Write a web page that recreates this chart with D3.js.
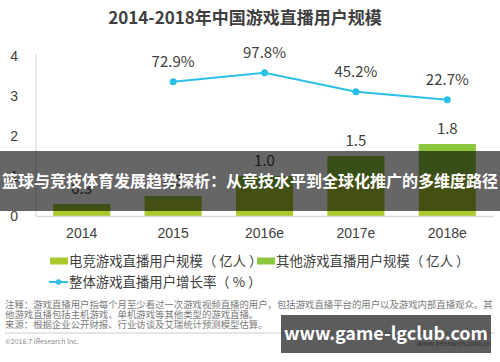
<!DOCTYPE html>
<html>
<head>
<meta charset="utf-8">
<script src="https://cdn.jsdelivr.net/npm/d3@7"></script>
<style>
    body { margin: 0; background: #fff; }
    svg { display: block; font-family: "Noto Sans CJK SC", "Noto Sans", sans-serif; }
</style>
</head>
<body>
<svg id="chart" width="500" height="362"></svg>
<script>
// data
var years = ["2014", "2015", "2016e", "2017e", "2018e"];
var esports = [0.25, 0.43, 0.70, 0.95, 1.02];   // 电竞游戏直播用户规模（亿人）
var others = [0.05, 0.07, 0.30, 0.55, 0.78];    // 其他游戏直播用户规模（亿人）
var growth = [null, 72.9, 97.8, 45.2, 22.7];    // 整体游戏直播用户增长率（%）
var yTicks = [0, 1, 2, 3, 4];

var notes = [
    "注释：游戏直播用户指每个月至少看过一次游戏视频直播的用户，包括游戏直播平台的用户以及游戏内部直播观众。其",
    "他游戏直播包括主机游戏、单机游戏等其他类型的游戏直播。",
    "来源：根据企业公开财报、行业访谈及艾瑞统计预测模型估算。"
];

var svg = d3.select("#chart");
var textColor = "#404040";
var colEsports = "#abc92d",
    colOthers = "#8cc63f",
    colLine = "#2bc0e8";

// title
svg.append("text")
    .attr("x", 245).attr("y", 18)
    .attr("dy", "0.35em")
    .attr("text-anchor", "middle")
    .attr("font-size", 17)
    .attr("font-weight", "bold")
    .attr("fill", textColor)
    .text("2014-2018年中国游戏直播用户规模");

var x = d3.scaleBand()
    .domain(years)
    .range([36, 493])
    .paddingInner(0.375)
    .paddingOuter(0.1875);

var y = d3.scaleLinear().domain([0, 4]).range([216, 56]);
var yRate = d3.scaleLinear().domain([0, 100]).range([108, 72]);

// y axis
var yAxis = svg.append("g")
    .attr("transform", "translate(36,0)")
    .call(d3.axisLeft(y).tickValues(yTicks).tickFormat(d3.format("d")).tickSize(0).tickPadding(18));
yAxis.select(".domain").remove();
yAxis.selectAll("text")
    .attr("font-size", 14)
    .attr("fill", textColor)
    .style("font-family", "inherit");

svg.append("line")
    .attr("x1", 36).attr("x2", 36)
    .attr("y1", 54).attr("y2", y(0))
    .attr("stroke", "#d9d9d9").attr("stroke-width", 1.2);

// stacked bars
var rows = years.map(function (d, i) {
    return { year: d, esports: esports[i], others: others[i] };
});
var stack = d3.stack().keys(["esports", "others"])(rows);
var colors = { esports: colEsports, others: colOthers };

svg.append("g").selectAll("g")
    .data(stack)
    .enter().append("g")
    .attr("fill", function (s) { return colors[s.key]; })
    .selectAll("rect")
    .data(function (s) { return s; })
    .enter().append("rect")
    .attr("x", function (d) { return x(d.data.year); })
    .attr("width", x.bandwidth())
    .attr("y", function (d) { return y(d[1]); })
    .attr("height", function (d) { return y(d[0]) - y(d[1]); });

// total labels
svg.append("g").selectAll("text")
    .data(rows)
    .enter().append("text")
    .attr("x", function (d) { return x(d.year) + x.bandwidth() / 2; })
    .attr("y", function (d) { return y(d.esports + d.others) - 15; })
    .attr("dy", "0.35em")
    .attr("text-anchor", "middle")
    .attr("font-size", 15)
    .attr("fill", textColor)
    .text(function (d) { return d3.format(".1f")(d.esports + d.others); });

// x axis
var xAxis = svg.append("g")
    .attr("transform", "translate(0," + y(0) + ")")
    .call(d3.axisBottom(x).tickSize(0).tickPadding(12));
xAxis.select(".domain")
    .attr("stroke", "#d9d9d9").attr("stroke-width", 1.5);
xAxis.selectAll("text")
    .attr("font-size", 14)
    .attr("fill", textColor)
    .style("font-family", "inherit");

// growth line
var pts = years.map(function (d, i) { return { year: d, v: growth[i] }; })
    .filter(function (d) { return d.v !== null; });

var line = d3.line()
    .x(function (d) { return x(d.year) + x.bandwidth() / 2; })
    .y(function (d) { return yRate(d.v); });

svg.append("path")
    .datum(pts)
    .attr("d", line)
    .attr("fill", "none")
    .attr("stroke", colLine)
    .attr("stroke-width", 2);

svg.append("g").selectAll("circle")
    .data(pts)
    .enter().append("circle")
    .attr("cx", function (d) { return x(d.year) + x.bandwidth() / 2; })
    .attr("cy", function (d) { return yRate(d.v); })
    .attr("r", 3.5)
    .attr("fill", colLine);

svg.append("g").selectAll("text")
    .data(pts)
    .enter().append("text")
    .attr("x", function (d) { return x(d.year) + x.bandwidth() / 2; })
    .attr("y", function (d) { return yRate(d.v) - 20; })
    .attr("dy", "0.35em")
    .attr("text-anchor", "middle")
    .attr("font-size", 15)
    .attr("fill", textColor)
    .text(function (d) { return d.v.toFixed(1) + "%"; });

// legend
var legend = svg.append("g").attr("font-size", 13.4).attr("fill", textColor);
legend.append("rect").attr("x", 50).attr("y", 257.5).attr("width", 18).attr("height", 7).attr("fill", colEsports);
legend.append("text").attr("x", 69).attr("y", 261).attr("dy", "0.35em").text("电竞游戏直播用户规模（ 亿人 ）");
legend.append("rect").attr("x", 257).attr("y", 257.5).attr("width", 18).attr("height", 7).attr("fill", colOthers);
legend.append("text").attr("x", 276).attr("y", 261).attr("dy", "0.35em").text("其他游戏直播用户规模（ 亿人 ）");
legend.append("line").attr("x1", 49).attr("x2", 68).attr("y1", 282).attr("y2", 282)
    .attr("stroke", colLine).attr("stroke-width", 2);
legend.append("circle").attr("cx", 58.5).attr("cy", 282).attr("r", 2.8).attr("fill", colLine);
legend.append("text").attr("x", 69).attr("y", 282).attr("dy", "0.35em").text("整体游戏直播用户增长率（ % ）");

// notes
svg.append("g").selectAll("text")
    .data(notes)
    .enter().append("text")
    .attr("x", 5)
    .attr("y", function (d, i) { return 305 + i * 10; })
    .attr("dy", "0.35em")
    .attr("font-size", 9.4)
    .attr("fill", "#7a7a7a")
    .text(function (d) { return d; });

svg.append("line")
    .attr("x1", 5).attr("x2", 495)
    .attr("y1", 333).attr("y2", 333)
    .attr("stroke", "#cccccc").attr("stroke-width", 1);

svg.append("text")
    .attr("x", 5).attr("y", 342).attr("dy", "0.35em")
    .attr("font-size", 7).attr("fill", "#8a8a8a")
    .text("©2016.7 iResearch Inc.");
svg.append("text")
    .attr("x", 491).attr("y", 344).attr("dy", "0.35em")
    .attr("text-anchor", "end")
    .attr("font-size", 7).attr("fill", "#8a8a8a")
    .text("www.iresearch.com.cn");

// headline overlay band
svg.append("rect")
    .attr("x", 0).attr("y", 151).attr("width", 500).attr("height", 60)
    .attr("fill", "rgba(0,0,0,0.6)");
svg.append("text")
    .attr("x", 250).attr("y", 181).attr("dy", "0.35em")
    .attr("text-anchor", "middle")
    .attr("font-size", 16)
    .attr("font-weight", "bold")
    .attr("fill", "#fff")
    .text("篮球与竞技体育发展趋势探析：从竞技水平到全球化推广的多维度路径");

// site watermark
svg.append("rect")
    .attr("x", 281).attr("y", 315).attr("width", 210).attr("height", 38)
    .attr("fill", "rgba(0,0,0,0.64)");
svg.append("text")
    .attr("x", 386).attr("y", 334).attr("dy", "0.35em")
    .attr("text-anchor", "middle")
    .attr("font-size", 18)
    .attr("font-weight", "bold")
    .attr("fill", "#fff")
    .text("www.game-lgclub.com");
</script>
</body>
</html>
